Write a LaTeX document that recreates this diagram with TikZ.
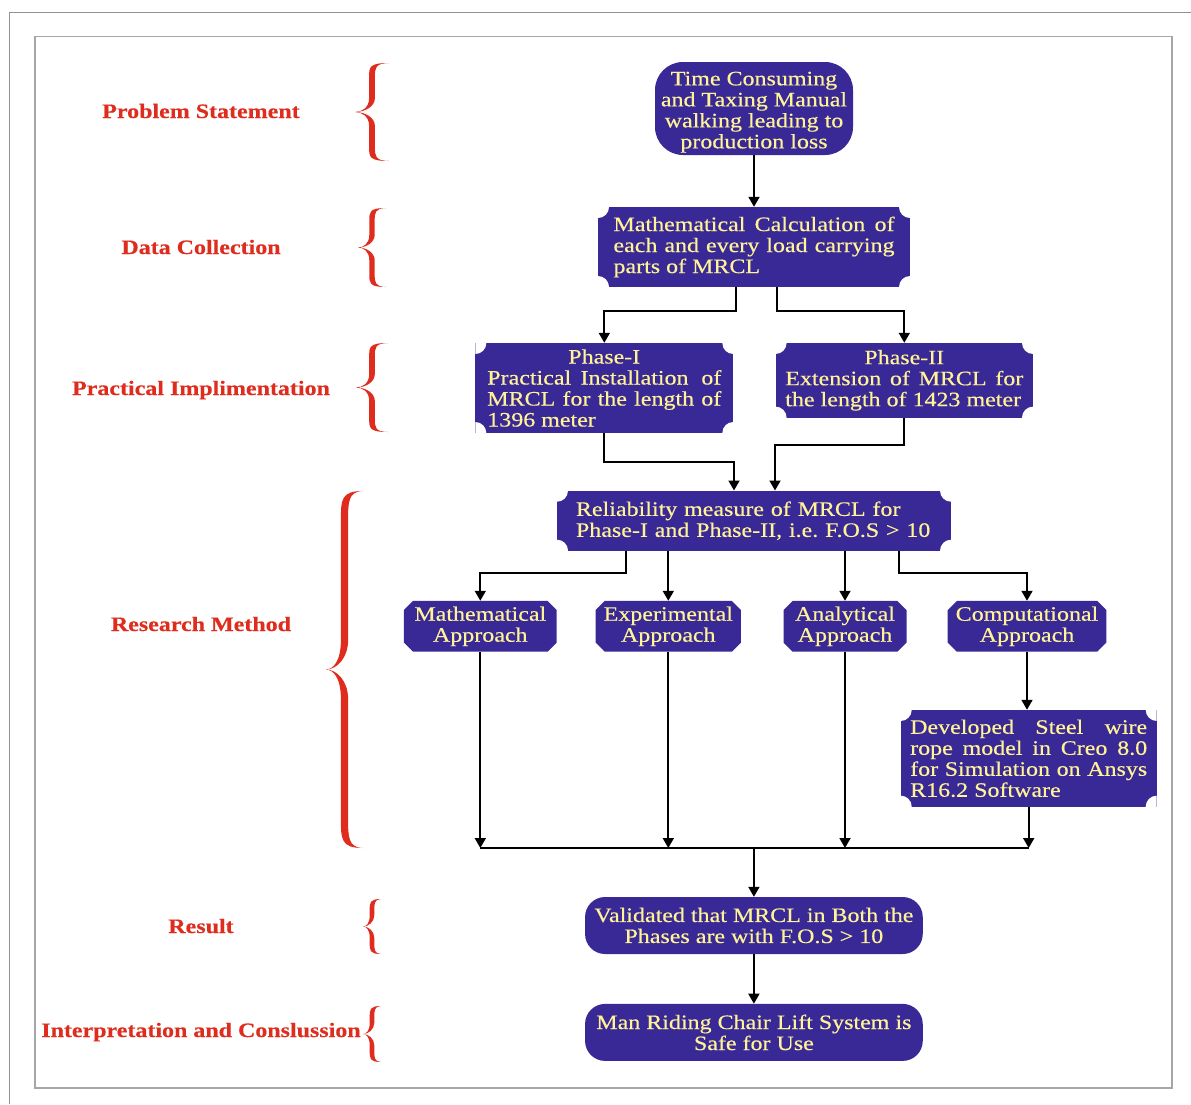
\documentclass[tikz,border=0pt]{standalone}
\usepackage{fontspec}
\setmainfont{Liberation Serif}[FakeStretch=1.17,FakeBold=0.35]
\usepackage{xcolor}
\usetikzlibrary{arrows.meta,shapes.misc}
\definecolor{boxblue}{RGB}{57,41,150}
\definecolor{boxtext}{RGB}{255,243,150}
\definecolor{lblred}{RGB}{222,45,30}
\frenchspacing

\begin{document}
\begin{tikzpicture}[x=1pt,y=-1pt,>={Triangle[length=10pt,width=11pt]},
 font={\fontsize{20.5}{21}\selectfont},
 box/.style={fill=boxblue,text=boxtext,inner ysep=2pt},
 roundbox/.style={box,rounded corners=#1,align=center},
 scal/.style={box,align=justify,path picture={
   \foreach \c in {north west,north east,south west,south east}
     \fill[white] (path picture bounding box.\c) circle (11pt);}},
 appr/.style={box,chamfered rectangle,chamfered rectangle xsep=6pt,align=center,
   inner xsep=2pt,minimum height=50.7pt},
 lbl/.style={text=lblred,anchor=base,font={\fontsize{20.5}{21}\selectfont\bfseries}},
 link/.style={->,line width=1.8pt},
 brc/.style={fill=lblred}]
\useasboundingbox (0,0) rectangle (1191,1104);
% frames
\draw[gray!85,line width=1pt] (9.5,1104) -- (9.5,12) -- (1191,12);
\draw[gray!70,line width=1.3pt] (35,36.5) rectangle (1172,1088);

% stage labels
\node[lbl] (lprob) at (201,118) {Problem Statement};
\node[lbl] (ldata) at (201,254) {Data Collection};
\node[lbl] (lprac) at (201,395) {Practical Implimentation};
\node[lbl] (lres) at (201,631) {Research Method};
\node[lbl] (lresult) at (201,933) {Result};
\node[lbl] (linterp) at (201,1037) {Interpretation and Conslussion};

% braces
\foreach \ya/\yb/\xr/\xt/\h in {63/161/389/355/2.9,208/287/386/358/2.7,343/432/388/356/2.8,
  491/848/363/326/3.6,899/954/381/363/2.3,1006/1062/381/363/2.3}{
  \pgfmathsetmacro\ym{(\ya+\yb)/2}
  \pgfmathsetmacro\xm{(\xr+\xt)/2}
  \pgfmathsetmacro\d{8+0.06*(\yb-\ya)}
  \fill[brc] (\xr,\ya)
   .. controls ({\xm-\h},\ya) and ({\xm-\h},{\ya+0.3*\d}) .. ({\xm-\h},{\ya+\d})
   -- ({\xm-\h},{\ym-\d})
   .. controls ({\xm-\h},{\ym-0.3*\d}) and ({\xt+0.4*(\xm-\xt)},\ym) .. (\xt,\ym)
   .. controls ({\xt+0.4*(\xm-\xt)},\ym) and ({\xm-\h},{\ym+0.3*\d}) .. ({\xm-\h},{\ym+\d})
   -- ({\xm-\h},{\yb-\d})
   .. controls ({\xm-\h},{\yb-0.3*\d}) and ({\xm-\h},\yb) .. (\xr,\yb)
   .. controls ({\xm+\h},{\yb-0.2}) and ({\xm+\h},{\yb-0.4*\d}) .. ({\xm+\h},{\yb-\d})
   -- ({\xm+\h},{\ym+\d})
   .. controls ({\xm+\h},{\ym+0.4*\d}) and ({\xt+0.6*(\xm-\xt)},\ym) .. (\xt,\ym)
   .. controls ({\xt+0.6*(\xm-\xt)},\ym) and ({\xm+\h},{\ym-0.4*\d}) .. ({\xm+\h},{\ym-\d})
   -- ({\xm+\h},{\ya+\d})
   .. controls ({\xm+\h},{\ya+0.4*\d}) and ({\xm+\h},{\ya+0.2}) .. (\xr,\ya) -- cycle;
}

% flow boxes
\node[roundbox=28pt,inner ysep=0pt,minimum width=198pt,minimum height=93pt] (prob) at (754,108.5)
  {\rule{0pt}{21pt}Time Consuming\\and Taxing Manual\\walking leading to\\production loss};
\node[scal,text width=281pt,inner xsep=15.5pt,minimum height=80pt] (data) at (754,247)
  {Mathematical Calculation of\linebreak each and every load carrying\linebreak parts of MRCL};
\node[scal,text width=234pt,inner xsep=12pt,minimum height=90pt] (ph1) at (604.3,388)
  {\hspace*{\fill}Phase-I\hspace*{\fill}\\Practical Installation\, of\linebreak MRCL for the length of\linebreak 1396 meter};
\node[scal,text width=238pt,inner xsep=9.7pt,minimum height=74.7pt] (ph2) at (904.3,380.3)
  {\hspace*{\fill}Phase-II\hspace*{\fill}\\Extension of MRCL for\linebreak the length of 1423 meter};
\node[scal,align=left,text width=356pt,inner xsep=19pt,minimum height=60pt] (rel) at (754,520.7)
  {Reliability measure of MRCL for\\Phase-I and Phase-II, i.e. F.O.S > 10};
\node[appr,minimum width=152.7pt] (math) at (480.3,626.3) {Mathematical\\Approach};
\node[appr,minimum width=141.4pt] (expt) at (668.3,626.3) {Experimental\\Approach};
\node[appr,minimum width=123pt] (anal) at (845,626.3) {Analytical\\Approach};
\node[appr,minimum width=154pt] (comp) at (1027,626.3) {Computational\\Approach};
\node[scal,text width=237pt,inner xsep=9.5pt,minimum height=96.7pt] (model) at (1028.7,758.3)
  {Developed Steel wire\linebreak rope model in Creo 8.0\linebreak for Simulation on Ansys\linebreak R16.2 Software};
\node[roundbox=20pt,minimum width=337.7pt,minimum height=57pt] (valid) at (753.9,925.5)
  {Validated that MRCL in Both the\\Phases are with F.O.S > 10};
\node[roundbox=20pt,minimum width=337.7pt,minimum height=57pt] (safe) at (753.9,1032.4)
  {Man Riding Chair Lift System is\\Safe for Use};
\coordinate (join) at (753.9,848);

% connectors
\draw[link] (prob) -- (data);
\draw[link] ([xshift=-18pt]data.south) -- ++(0,24) -| (ph1.north);
\draw[link] ([xshift=23pt]data.south) -- ++(0,24) -| (ph2.north);
\draw[link] (ph1.south) -- ++(0,29) -| ([xshift=-20pt]rel.north);
\draw[link] (ph2.south) -- ++(0,27.5) -| ([xshift=21pt]rel.north);
\draw[link] ([xshift=-128pt]rel.south) -- ++(0,22) -| (math.north);
\draw[link] (expt.north |- rel.south) -- (expt.north);
\draw[link] (anal.north |- rel.south) -- (anal.north);
\draw[link] ([xshift=145pt]rel.south) -- ++(0,22) -| (comp.north);
\draw[link] (comp.south) -- (comp.south |- model.north);
\draw[link] (math.south) -- (math.south |- join);
\draw[link] (expt.south) -- (expt.south |- join);
\draw[link] (anal.south) -- (anal.south |- join);
\draw[link] (model.south) -- (model.south |- join);
\draw[line width=1.8pt] (math.south |- join) -- (model.south |- join);
\draw[link] (join) -- (valid);
\draw[link] (valid) -- (safe);
\end{tikzpicture}
\end{document}
